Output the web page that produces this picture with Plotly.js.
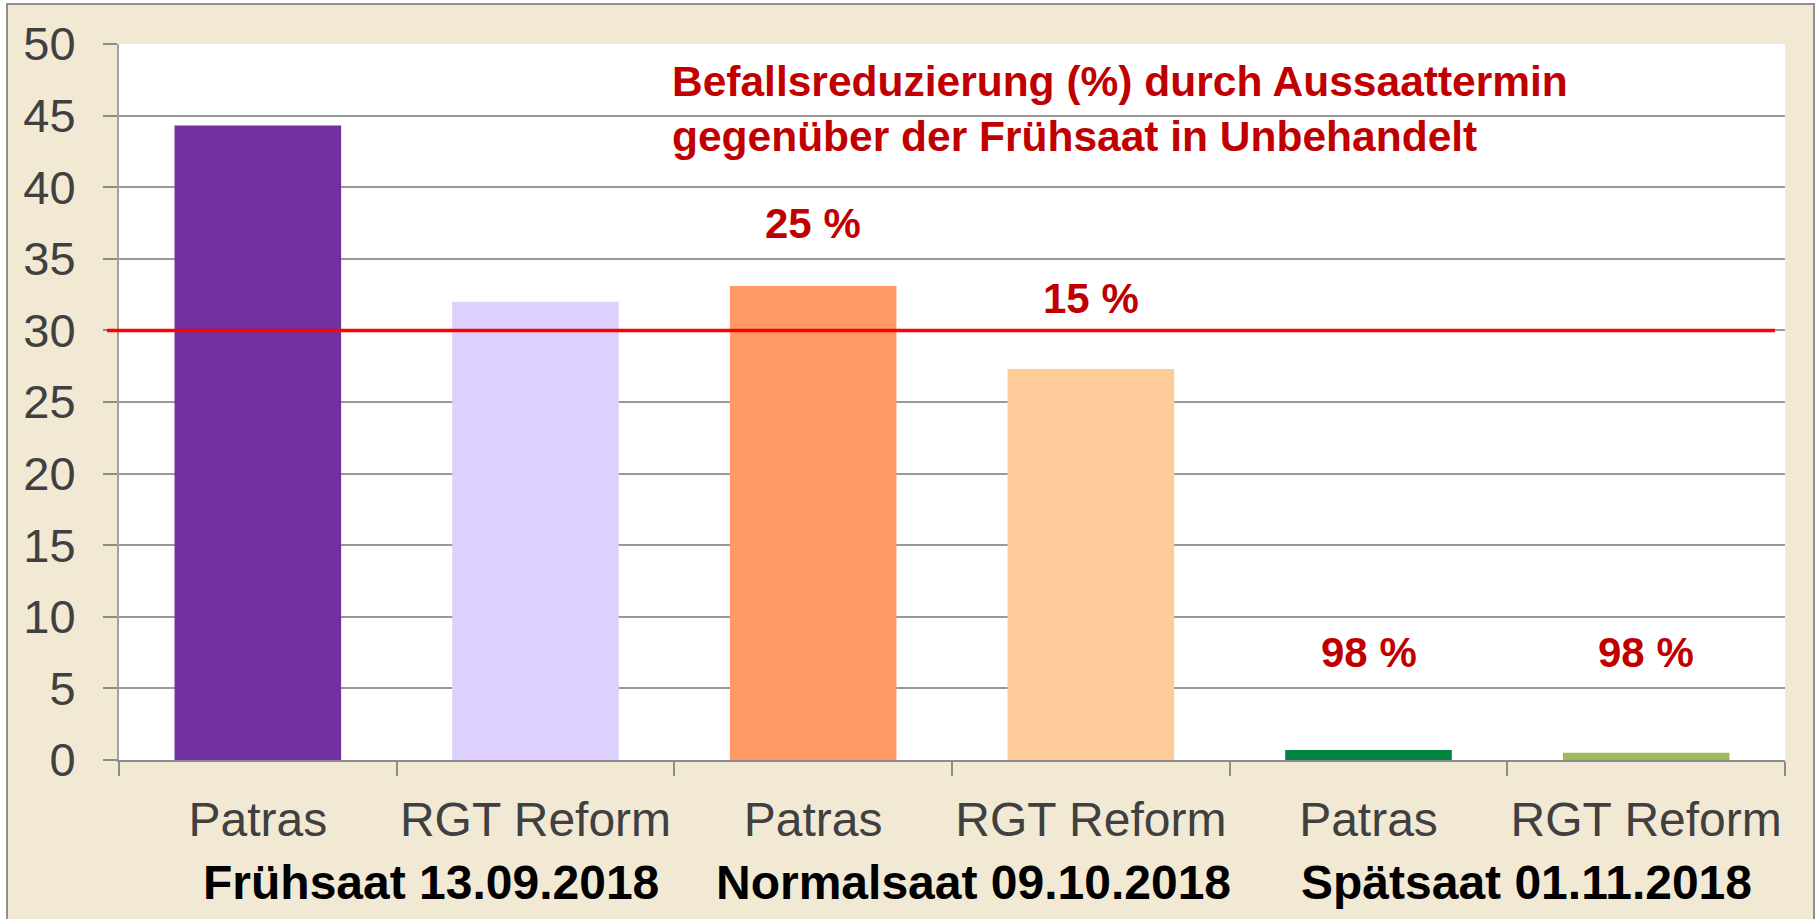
<!DOCTYPE html>
<html>
<head>
<meta charset="utf-8">
<script src="https://cdn.plot.ly/plotly-3.0.1.min.js"></script>
<style>html,body{margin:0;padding:0;background:#fff;}#chart{width:1819px;height:919px;}</style>
</head>
<body>
<div id="chart"></div>
<script>
// ---- data ----
const varieties = ["Patras", "RGT Reform", "Patras", "RGT Reform", "Patras", "RGT Reform"];
const values = [44.3, 32.0, 33.1, 27.3, 0.7, 0.5];
const barColors = ["#7030A0", "#DDD0FE", "#FF9966", "#FFCC99", "#00843F", "#9BBB59"];
const groups = ["Frühsaat 13.09.2018", "Normalsaat 09.10.2018", "Spätsaat 01.11.2018"];
const reductionLabels = ["", "", "25 %", "15 %", "98 %", "98 %"];
const threshold = 30;
const yTicks = [0, 5, 10, 15, 20, 25, 30, 35, 40, 45, 50];
const titleLines = ["Befallsreduzierung (%) durch Aussaattermin", "gegenüber der Frühsaat in Unbehandelt"];

const idx = varieties.map((_, i) => i);
const bounds = [-0.5].concat(idx.map(i => i + 0.5));

const trace = {
  type: "bar",
  x: idx,
  y: values,
  width: 0.6,
  marker: {color: barColors, line: {width: 0}},
  hoverinfo: "skip"
};

const boldFont = "'Liberation Sans', Arial, sans-serif";
const labelPos = {2: 37.5, 3: 32.2, 4: 7.5, 5: 7.5};
const annotations = [];
idx.forEach(i => {
  if (reductionLabels[i]) {
    annotations.push({
      x: i, y: labelPos[i], xref: "x", yref: "y", text: "<b>" + reductionLabels[i] + "</b>",
      showarrow: false, xanchor: "center", yanchor: "middle",
      font: {family: boldFont, size: 42, color: "#C00000"}
    });
  }
});
const groupX = [0.623, 2.579, 4.57];
groups.forEach((g, k) => {
  annotations.push({
    x: groupX[k], y: -0.171, xref: "x", yref: "paper", text: "<b>" + g + "</b>",
    showarrow: false, xanchor: "center", yanchor: "middle",
    font: {family: boldFont, size: 48, color: "#000000"}
  });
});
annotations.push({
  x: 0.331, y: 0.909, xref: "paper", yref: "paper",
  text: "<b>" + titleLines.join("<br>") + "</b>",
  showarrow: false, xanchor: "left", yanchor: "middle", align: "left",
  font: {family: boldFont, size: 42.5, color: "#C00000"}
});

const layout = {
  width: 1819, height: 919,
  margin: {l: 119, r: 34, t: 44, b: 159},
  paper_bgcolor: "#FFFFFF",
  plot_bgcolor: "#FFFFFF",
  showlegend: false,
  bargap: 0.4,
  font: {family: "'Liberation Sans', Arial, sans-serif", color: "#404040"},
  xaxis: {
    range: [-0.5, 5.5],
    tickmode: "array", tickvals: idx, ticktext: varieties,
    ticks: "", showgrid: false, zeroline: false,
    showline: true, linecolor: "#8C8C8C", linewidth: 2,
    tickfont: {size: 48, color: "#404040"},
    ticklabelstandoff: 16,
    minor: {tickmode: "array", tickvals: bounds, ticks: "outside", ticklen: 14, tickwidth: 2, tickcolor: "#8C8C8C", showgrid: false},
    fixedrange: true
  },
  yaxis: {
    range: [0, 50],
    tickmode: "array", tickvals: yTicks,
    ticks: "outside", ticklen: 14, tickwidth: 2, tickcolor: "#8C8C8C",
    showgrid: true, gridcolor: "#999999", gridwidth: 2,
    zeroline: false,
    showline: true, linecolor: "#A0A0A0", linewidth: 2,
    tickfont: {size: 47, color: "#404040"},
    ticklabelstandoff: 18,
    fixedrange: true
  },
  shapes: [
    {type: "rect", xref: "paper", yref: "paper", layer: "below",
     x0: -112 / 1666, x1: 1695 / 1666, y0: -162 / 715, y1: 1 + 40 / 715,
     fillcolor: "#F2E9D5", line: {color: "#8F8F8F", width: 2}},
    {type: "rect", xref: "paper", yref: "paper", layer: "below",
     x0: 0, x1: 1, y0: 0, y1: 1, fillcolor: "#FFFFFF", line: {width: 0}},
    {type: "line", xref: "paper", yref: "y", layer: "above",
     x0: -12 / 1666, x1: 1656 / 1666, y0: threshold, y1: threshold,
     line: {color: "#FF0000", width: 3.5}}
  ],
  annotations: annotations
};

Plotly.newPlot("chart", [trace], layout, {displayModeBar: false, staticPlot: true});
</script>
</body>
</html>
